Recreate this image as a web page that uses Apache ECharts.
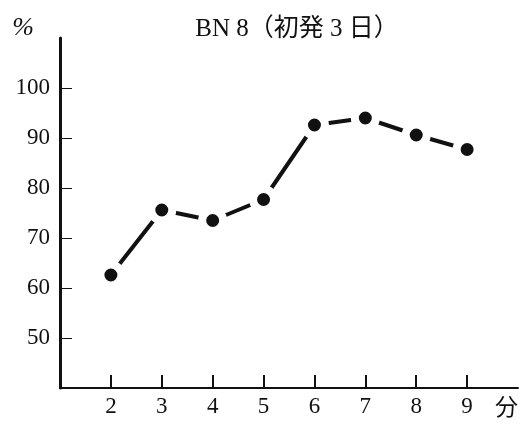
<!DOCTYPE html>
<html>
<head>
<meta charset="utf-8">
<script src="https://cdn.jsdelivr.net/npm/echarts@6/dist/echarts.min.js"></script>
<style>
html,body{margin:0;padding:0;background:#fff;}
#c{width:532px;height:431px;}
</style>
</head>
<body>
<div id="c"></div>
<script>
var titleText = 'BN 8（初発 3 日）';
var xValues = [2, 3, 4, 5, 6, 7, 8, 9];
var yValues = [62.6, 75.6, 73.5, 77.7, 92.6, 94, 90.6, 87.7];
var xTickValues = [2, 3, 4, 5, 6, 7, 8, 9];
var yTickValues = [50, 60, 70, 80, 90, 100];
var xName = '分';
var yName = '%';

var serif = '"Liberation Serif", "Noto Sans CJK JP", serif';
var chart = echarts.init(document.getElementById('c'), null, {renderer: 'canvas'});
var points = xValues.map(function (x, i) { return [x, yValues[i]]; });

chart.setOption({
  animation: false,
  backgroundColor: '#fff',
  title: {
    text: titleText,
    left: 292,
    top: 12,
    textAlign: 'center',
    textStyle: {fontFamily: serif, fontSize: 25, fontWeight: 'normal', color: '#111'}
  },
  grid: {left: 60, right: 14, top: 38, bottom: 43, containLabel: false},
  xAxis: {
    type: 'value',
    min: 1, max: 10, interval: 1,
    name: xName,
    nameLocation: 'end',
    nameGap: 0,
    nameTextStyle: {fontFamily: serif, fontSize: 23, color: '#111', align: 'right', verticalAlign: 'top', padding: [9, 0, 0, 0]},
    axisLine: {lineStyle: {color: '#111', width: 2}},
    axisTick: {show: true, inside: true, length: 13, customValues: xTickValues, lineStyle: {color: '#111', width: 2}},
    axisLabel: {customValues: xTickValues, margin: 7, fontFamily: serif, fontSize: 23, color: '#111'},
    splitLine: {show: false}
  },
  yAxis: {
    type: 'value',
    min: 40, max: 110, interval: 10,
    name: yName,
    nameLocation: 'end',
    nameGap: 10,
    nameTextStyle: {fontFamily: serif, fontSize: 26, fontStyle: 'italic', color: '#111', align: 'right', verticalAlign: 'middle', padding: [0, 26, 0, 0]},
    axisLine: {show: true, lineStyle: {color: '#111', width: 3}},
    axisTick: {show: true, inside: true, length: 12, customValues: yTickValues, lineStyle: {color: '#111', width: 1}},
    axisLabel: {customValues: yTickValues, margin: 10, fontFamily: serif, fontSize: 23, color: '#111'},
    splitLine: {show: false}
  },
  series: [{
    type: 'line',
    data: points,
    symbol: 'circle',
    symbolSize: 21,
    z: 2,
    itemStyle: {color: '#111', borderColor: '#fff', borderWidth: 8},
    lineStyle: {color: '#111', width: 4, type: 'solid'},
    silent: true
  }]
});
</script>
</body>
</html>
